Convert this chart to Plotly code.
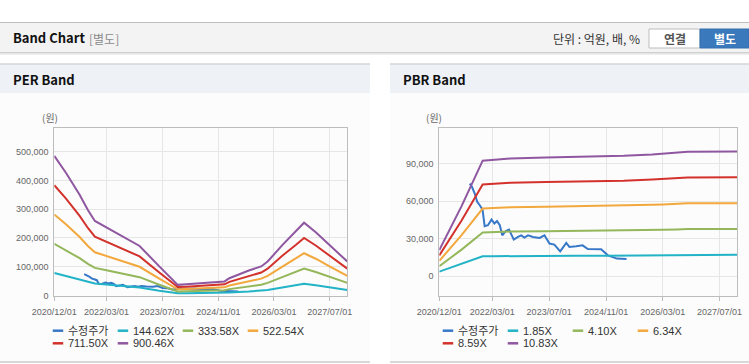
import plotly.graph_objects as go

W, H = 749, 364

# ---------------- data ----------------
x_tick_vals = ['2020-12-01', '2022-03-01', '2023-07-01', '2024-11-01', '2026-03-01', '2027-07-01']
x_tick_text = ['2020/12/01', '2022/03/01', '2023/07/01', '2024/11/01', '2026/03/01', '2027/07/01']

per_dates = ['2020-12-01', '2021-03-15', '2021-07-10', '2021-09-20', '2021-11-20', '2022-03-01',
             '2022-07-20', '2022-12-15', '2023-06-05', '2023-08-30', '2023-11-13', '2024-01-25',
             '2024-05-15', '2024-09-10', '2024-12-25', '2025-02-05', '2025-07-25', '2025-11-10',
             '2026-01-05', '2026-05-13', '2026-09-07', '2026-11-19', '2027-03-01', '2027-06-25',
             '2027-12-01']
per_144 = [78500, 68300, 56200, 47700, 41600, 38100, 32900, 27600, 16200, 10800, 7500, 7800,
           8200, 8600, 9000, 10600, 14000, 16200, 19000, 28100, 35700, 41000, 35300, 28300, 19000]
per_333 = [179600, 157400, 129600, 110000, 95900, 87800, 75900, 63700, 37400, 24800, 13700, 14400,
           15900, 17400, 18200, 22200, 32200, 37400, 43700, 64800, 82200, 93700, 81500, 65200, 43700]
per_522 = [281400, 246600, 203100, 172300, 150300, 137500, 119000, 99800, 58600, 38900, 21500, 22600,
           25000, 27300, 28400, 34800, 50500, 58600, 68500, 101600, 128800, 146800, 127700, 102100, 68500]
per_711 = [383200, 335800, 276600, 234700, 204700, 187300, 162000, 135900, 79800, 52900, 29200, 30800,
           34000, 37100, 38700, 47400, 68700, 79800, 93200, 138300, 175400, 199900, 173800, 139100, 93200]
per_900 = [485000, 425000, 350000, 297000, 259000, 237000, 205000, 172000, 101000, 67000, 37000, 39000,
           43000, 47000, 49000, 60000, 87000, 101000, 118000, 175000, 222000, 253000, 220000, 176000, 118000]

price_dates = ['2021-08-19', '2021-09-07', '2021-10-01', '2021-10-22', '2021-11-13', '2021-12-07',
               '2021-12-25', '2022-01-22', '2022-02-22', '2022-03-19', '2022-04-10', '2022-05-04',
               '2022-05-25', '2022-06-25', '2022-07-22', '2022-09-01', '2022-10-07', '2022-11-04',
               '2022-12-01', '2023-01-01', '2023-02-12', '2023-03-25', '2023-04-10', '2023-05-22',
               '2023-07-04', '2023-08-15', '2023-10-04', '2023-11-25', '2023-12-22', '2024-02-18',
               '2024-04-13', '2024-05-28', '2024-09-19', '2024-11-16', '2025-02-01', '2025-04-25']
price_vals = [74000, 71400, 66000, 59400, 56700, 53200, 39900, 40700, 45200, 42000, 44000, 40700,
              32600, 36100, 37200, 29200, 31300, 32600, 30800, 32600, 31300, 30800, 30500, 32600,
              26000, 25200, 19800, 26500, 23300, 23800, 24600, 21700, 21400, 16600, 14000, 13600]

pbr_dates = ['2020-12-01', '2021-06-10', '2021-12-08', '2022-03-01', '2022-08-01', '2023-06-01',
             '2024-02-01', '2024-11-01', '2025-04-01', '2025-12-01', '2026-03-01', '2026-07-01',
             '2026-10-01', '2027-12-01']
pbr_185 = [3550, 9600, 15800, 15900, 16100, 16200, 16300, 16300, 16400, 16600, 16700, 16800, 17000, 17000]
pbr_410 = [7900, 21200, 34900, 35200, 35600, 35900, 36100, 36200, 36400, 36800, 37000, 37300, 37600, 37700]
pbr_634 = [12200, 32800, 54000, 54400, 55000, 55500, 55800, 56000, 56300, 57000, 57300, 57700, 58200, 58300]
pbr_859 = [16500, 44400, 73200, 73800, 74600, 75200, 75700, 75800, 76300, 77200, 77600, 78200, 78800, 79000]
pbr_1083 = [20800, 56000, 92300, 93000, 94000, 94800, 95400, 95600, 96200, 97300, 97800, 98600, 99400, 99600]

per_names = ['수정주가', '144.62X', '333.58X', '522.54X', '711.50X', '900.46X']
pbr_names = ['수정주가', '1.85X', '4.10X', '6.34X', '8.59X', '10.83X']
colors = ['#3878c8', '#22b3c6', '#93b75a', '#f2a83c', '#d3322c', '#8f57a0']

# ---------------- helpers (pixel -> paper) ----------------
def X(px):
    return px / W

def Y(py):
    return 1 - py / H

TICK_FONT = dict(family='Liberation Sans, Arial, sans-serif', size=9, color='#666666')
KFONT = 'Noto Sans CJK KR, Liberation Sans, sans-serif'

fig = go.Figure()

per_series = [per_144, per_333, per_522, per_711, per_900]
pbr_series = [pbr_185, pbr_410, pbr_634, pbr_859, pbr_1083]

fig.add_trace(go.Scatter(x=price_dates, y=price_vals, mode='lines', name=per_names[0],
                         line=dict(color=colors[0], width=2), xaxis='x', yaxis='y', showlegend=False))
for i, s in enumerate(per_series):
    fig.add_trace(go.Scatter(x=per_dates, y=s, mode='lines', name=per_names[i + 1],
                             line=dict(color=colors[i + 1], width=2), xaxis='x', yaxis='y',
                             showlegend=False))

fig.add_trace(go.Scatter(x=price_dates, y=price_vals, mode='lines', name=pbr_names[0],
                         line=dict(color=colors[0], width=2), xaxis='x2', yaxis='y2', showlegend=False))
for i, s in enumerate(pbr_series):
    fig.add_trace(go.Scatter(x=pbr_dates, y=s, mode='lines', name=pbr_names[i + 1],
                             line=dict(color=colors[i + 1], width=2), xaxis='x2', yaxis='y2',
                             showlegend=False))

# ---------------- axes ----------------
y_dom = [Y(295.5), Y(128.3)]
common_x = dict(type='date', range=['2020-12-01', '2027-12-01'], tickvals=x_tick_vals,
                ticktext=x_tick_text, showgrid=True, gridcolor='#e6e6e6', gridwidth=1,
                showline=True, linecolor='#bdbdbd', linewidth=1, mirror=True,
                ticks='outside', ticklen=4, tickcolor='#bdbdbd', tickfont=TICK_FONT,
                ticklabelstandoff=4, fixedrange=True, automargin=False)
common_y = dict(showgrid=True, gridcolor='#e6e6e6', gridwidth=1, zeroline=False,
                showline=True, linecolor='#bdbdbd', linewidth=1, mirror=True,
                ticks='outside', ticklen=3, tickcolor='rgba(0,0,0,0)', tickfont=TICK_FONT,
                tickformat=',d', fixedrange=True, automargin=False)

fig.update_layout(
    xaxis=dict(domain=[X(54.3), X(347.3)], anchor='y', **common_x),
    yaxis=dict(domain=y_dom, anchor='x', range=[0, 581000],
               tickvals=[0, 100000, 200000, 300000, 400000, 500000], **common_y),
    xaxis2=dict(domain=[X(439.3), X(737.3)], anchor='y2', **common_x),
    yaxis2=dict(domain=y_dom, anchor='x2', range=[-15500, 118200],
                tickvals=[0, 30000, 60000, 90000], **common_y),
)

# ---------------- page decorations ----------------
shapes = []
ann = []

def rect(x0, y0, x1, y1, fill, line=None, lw=0):
    shapes.append(dict(type='rect', xref='paper', yref='paper', x0=X(x0), x1=X(x1),
                       y0=Y(y1), y1=Y(y0), fillcolor=fill, layer='below',
                       line=dict(color=line or fill, width=lw)))

def hline(x0, x1, y, color, w=1, layer='below'):
    shapes.append(dict(type='line', xref='paper', yref='paper', x0=X(x0), x1=X(x1),
                       y0=Y(y), y1=Y(y), line=dict(color=color, width=w), layer=layer))

def text(x, y, s, size=12, color='#222', family=KFONT, anchor='left', bold=False):
    if bold:
        s = '<b>' + s + '</b>'
    ann.append(dict(x=X(x), y=Y(y), xref='paper', yref='paper', text=s, showarrow=False,
                    xanchor=anchor, yanchor='middle', font=dict(size=size, color=color, family=family)))

# top header bar
rect(0, 23, W, 52, '#f3f3f3')
hline(0, W, 22.5, '#bdbdbd', 1)
hline(0, W, 52.5, '#d0d0d0', 1)
hline(0, W, 53.5, '#e4e4e4', 1)
hline(0, W, 54.5, '#f0f0f0', 1)
text(11, 38, 'Band Chart', size=13, color='#111', bold=True)
text(87, 38.5, '[별도]', size=12, color='#8a8a8a')
text(641.5, 38.5, '단위 : 억원, 배, %', size=12, color='#333', anchor='right')
rect(649, 29, 700, 48, '#ffffff', '#bdbdbd', 1)
rect(700, 29, 749, 48, '#3a79bb', '#3470b0', 1)
text(674.5, 38.5, '연결', size=12, color='#555', anchor='center', bold=True)
text(724.5, 38.5, '별도', size=12, color='#ffffff', anchor='center', bold=True)

# panels
for (px0, px1, title) in [(0, 370, 'PER Band'), (390, W, 'PBR Band')]:
    rect(px0, 64, px1, 93, '#eef1f6')
    rect(px0, 93, px1, 361, '#fcfcfc')
    hline(px0, px1, 64, '#d4d4d4', 1.5)
    hline(px0, px1, 362, '#d8d8d8', 2)
    text(px0 + 11, 79.5, title, size=13, color='#111', bold=True)

# axis unit labels
text(49.5, 118, '(원)', size=10, color='#666', anchor='center')
text(434, 118, '(원)', size=10, color='#666', anchor='center')

# manual legends
def legend(names, cols, x_start):
    pos = [(0, 330.7), (65, 330.7), (130, 330.7), (195, 330.7), (0, 343.3), (65, 343.3)]
    for (dx, yy), name, c in zip(pos, names, cols):
        x0 = x_start + dx
        shapes.append(dict(type='line', xref='paper', yref='paper', x0=X(x0), x1=X(x0 + 10.5),
                           y0=Y(yy), y1=Y(yy), line=dict(color=c, width=2.5), layer='above'))
        text(x0 + 13, yy, name, size=11, color='#333',
             family='Liberation Sans, Noto Sans CJK KR, sans-serif')

legend(per_names, colors, 52.7)
legend(pbr_names, colors, 442.7)

fig.update_layout(
    width=W, height=H, margin=dict(l=0, r=0, t=0, b=0, autoexpand=False), autosize=False,
    paper_bgcolor='#ffffff', plot_bgcolor='rgba(0,0,0,0)',
    shapes=shapes, annotations=ann, showlegend=False,
    font=dict(family=KFONT),
)

fig.write_html('out.html', config={'displayModeBar': False},
               post_script="document.body.style.margin='0px';document.body.style.overflow='hidden';")
